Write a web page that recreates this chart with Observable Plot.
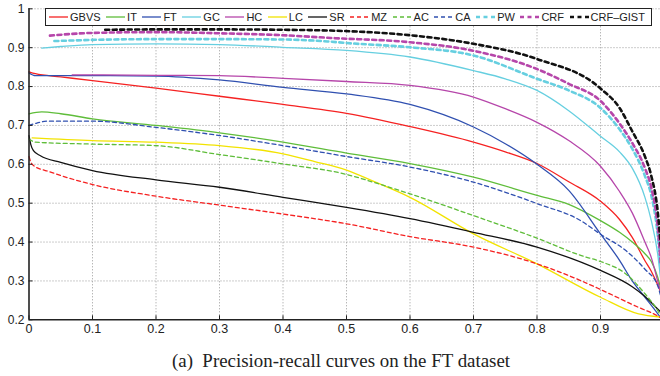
<!DOCTYPE html>
<html>
<head>
<meta charset="utf-8">
<script src="https://cdn.jsdelivr.net/npm/d3@7"></script>
<script src="https://cdn.jsdelivr.net/npm/@observablehq/plot@0.6"></script>
<style>
  html, body { margin: 0; padding: 0; background: white; overflow: hidden; }
  #wrap { position: relative; width: 660px; height: 376px; overflow: hidden; }
  #legend {
    position: absolute; left: 45px; top: 8px; width: 607px; height: 18px;
    box-sizing: border-box; border: 1.2px solid #222; background: white;
    display: flex; align-items: center; justify-content: space-between;
    padding: 0 6px 0 3px;
    font-family: "Liberation Sans", Arial, sans-serif; font-size: 11px; color: #222;
  }
  #legend .item { display: flex; align-items: center; white-space: nowrap; }
  #legend svg { display: block; margin-right: 2px; }
  #caption {
    position: absolute; left: 0; top: 351px; width: 660px; text-align: center;
    font-family: "Liberation Serif", "Times New Roman", serif; font-size: 18px;
    line-height: 20px; color: #222;
  }
  #caption span { display: inline-block; transform: scaleX(1.05); transform-origin: center; margin-left: 22px; }
</style>
</head>
<body>
<div id="wrap">
  <div id="chart"></div>
  <div id="legend"></div>
  <div id="caption"><span>(a)&nbsp; Precision-recall curves on the FT dataset</span></div>
</div>
<script>
// ---------- data: [recall, precision] pairs ----------
const names = ["GBVS", "IT", "FT", "GC", "HC", "LC", "SR", "MZ", "AC", "CA", "PW", "CRF", "CRF–GIST"];

const gbvs = [[0,0.838],[0.01,0.833],[0.05,0.825],[0.1,0.815],[0.2,0.796],[0.3,0.775],[0.4,0.754],[0.5,0.731],[0.6,0.697],[0.7,0.657],[0.75,0.632],[0.8,0.602],[0.85,0.555],[0.9,0.505],[0.93,0.458],[0.95,0.412],[0.97,0.352],[0.98,0.325],[0.99,0.29],[0.995,0.27]];
const it = [[0,0.73],[0.02,0.735],[0.05,0.73],[0.1,0.717],[0.2,0.70],[0.3,0.681],[0.4,0.657],[0.5,0.629],[0.6,0.602],[0.7,0.567],[0.8,0.52],[0.85,0.497],[0.9,0.455],[0.93,0.425],[0.95,0.40],[0.97,0.37],[0.98,0.35],[0.99,0.31],[0.995,0.28]];
const ft = [[0,0.835],[0.01,0.828],[0.1,0.828],[0.2,0.827],[0.3,0.817],[0.4,0.798],[0.5,0.781],[0.6,0.754],[0.7,0.696],[0.75,0.653],[0.8,0.60],[0.85,0.533],[0.9,0.421],[0.93,0.353],[0.95,0.30],[0.97,0.258],[0.99,0.216],[0.995,0.205]];
const gc = [[0.02,0.899],[0.05,0.903],[0.1,0.908],[0.2,0.91],[0.3,0.908],[0.4,0.901],[0.5,0.893],[0.6,0.876],[0.7,0.841],[0.75,0.82],[0.8,0.79],[0.85,0.738],[0.9,0.672],[0.93,0.632],[0.95,0.59],[0.97,0.515],[0.98,0.455],[0.99,0.37],[0.995,0.30]];
const hc = [[0.068,0.83],[0.1,0.83],[0.2,0.829],[0.3,0.828],[0.4,0.821],[0.5,0.813],[0.6,0.803],[0.7,0.773],[0.75,0.743],[0.8,0.708],[0.85,0.661],[0.9,0.595],[0.93,0.53],[0.95,0.475],[0.97,0.40],[0.98,0.36],[0.99,0.30],[0.995,0.27]];
const lc = [[0.005,0.668],[0.1,0.661],[0.2,0.657],[0.3,0.648],[0.4,0.627],[0.45,0.607],[0.5,0.585],[0.54,0.558],[0.6,0.515],[0.7,0.421],[0.8,0.344],[0.9,0.258],[0.96,0.215],[0.995,0.207]];
const sr = [[0,0.674],[0.003,0.65],[0.007,0.635],[0.018,0.622],[0.05,0.605],[0.1,0.584],[0.2,0.56],[0.3,0.541],[0.4,0.515],[0.5,0.489],[0.6,0.46],[0.7,0.425],[0.8,0.387],[0.9,0.327],[0.95,0.285],[0.97,0.26],[0.99,0.228],[0.995,0.22]];
const mz = [[0,0.62],[0.003,0.605],[0.007,0.597],[0.034,0.58],[0.1,0.548],[0.2,0.518],[0.3,0.495],[0.4,0.472],[0.5,0.447],[0.6,0.414],[0.7,0.387],[0.8,0.344],[0.87,0.30],[0.9,0.278],[0.96,0.232],[0.99,0.21],[0.995,0.205]];
const ac = [[0,0.665],[0.01,0.657],[0.1,0.652],[0.2,0.648],[0.3,0.625],[0.4,0.601],[0.5,0.574],[0.55,0.55],[0.6,0.524],[0.7,0.468],[0.8,0.41],[0.87,0.365],[0.9,0.35],[0.94,0.318],[0.97,0.267],[0.99,0.224],[0.995,0.21]];
const ca = [[0,0.70],[0.01,0.705],[0.03,0.711],[0.1,0.711],[0.2,0.695],[0.3,0.674],[0.4,0.648],[0.5,0.62],[0.6,0.593],[0.7,0.554],[0.8,0.499],[0.87,0.454],[0.9,0.42],[0.94,0.378],[0.97,0.33],[0.99,0.288],[0.995,0.26]];
const pw = [[0.04,0.917],[0.1,0.92],[0.2,0.922],[0.3,0.922],[0.4,0.921],[0.47,0.916],[0.5,0.912],[0.6,0.901],[0.7,0.88],[0.8,0.82],[0.85,0.79],[0.9,0.745],[0.93,0.69],[0.95,0.64],[0.97,0.57],[0.98,0.52],[0.99,0.42],[0.995,0.33]];
const crf = [[0.033,0.931],[0.1,0.938],[0.2,0.94],[0.3,0.937],[0.4,0.932],[0.475,0.925],[0.6,0.914],[0.7,0.892],[0.8,0.845],[0.85,0.807],[0.9,0.763],[0.93,0.705],[0.95,0.655],[0.97,0.59],[0.98,0.54],[0.99,0.44],[0.995,0.34]];
const crfGist = [[0.12,0.946],[0.2,0.947],[0.3,0.947],[0.4,0.946],[0.475,0.944],[0.6,0.932],[0.7,0.91],[0.8,0.871],[0.9,0.795],[0.93,0.745],[0.95,0.685],[0.97,0.62],[0.98,0.57],[0.99,0.48],[0.995,0.39]];

const seriesData = [gbvs, it, ft, gc, hc, lc, sr, mz, ac, ca, pw, crf, crfGist];

const xTicks = [0, 0.1, 0.2, 0.3, 0.4, 0.5, 0.6, 0.7, 0.8, 0.9];
const yTicks = [0.2, 0.3, 0.4, 0.5, 0.6, 0.7, 0.8, 0.9, 1];

// ---------- styles (separate from data) ----------
const colors = ["#f52222", "#5fbd3a", "#3050b0", "#66cfe0", "#b646aa", "#f2e300", "#111111",
                "#f52222", "#5fbd3a", "#3050b0", "#66cfe0", "#b646aa", "#111111"];
const widths = [1.3, 1.3, 1.3, 1.3, 1.3, 1.3, 1.3, 1.3, 1.3, 1.3, 2.6, 2.6, 2.6];
const dashes = [null, null, null, null, null, null, null, "4,3", "4,3", "4,3", "4,3.5", "4,3.5", "4,3.5"];

const W = 660, H = 340;
const mL = 28.5, mR = 0, mT = 8.3, mB = 20.7;

const lineMarks = seriesData.map((d, i) =>
  Plot.line(d, {
    x: p => p[0], y: p => p[1],
    stroke: colors[i], strokeWidth: widths[i],
    strokeDasharray: dashes[i] || undefined,
    curve: "monotone-x"
  })
);

const chart = Plot.plot({
  width: W, height: H,
  marginLeft: mL, marginRight: mR, marginTop: mT, marginBottom: mB,
  x: { domain: [0, 1], range: [mL, mL + 635] },
  y: { domain: [0.2, 1], range: [H - mB, mT] },
  style: { fontFamily: "Liberation Sans, Arial, sans-serif", color: "#222", background: "white", overflow: "hidden" },
  marks: [
    Plot.ruleX(xTicks.slice(1), { x: d => d, stroke: "#999", strokeOpacity: 1, strokeWidth: 1, strokeDasharray: "1,2" }),
    Plot.ruleY(yTicks.slice(1), { y: d => d, stroke: "#999", strokeOpacity: 1, strokeWidth: 1, strokeDasharray: "1,2" }),
    ...lineMarks,
    Plot.tickX(xTicks, { x: d => d, stroke: "#222", insetTop: (H - mT - mB) - 4 }),
    Plot.tickY(yTicks, { y: d => d, stroke: "#222", insetRight: (W - mL - mR) - 4 }),
    Plot.ruleX([0], { stroke: "#222", strokeWidth: 1.6 }),
    Plot.ruleY([0.2], { stroke: "#222", strokeWidth: 1.6 }),
    Plot.axisX({ ticks: xTicks, tickSize: 0, tickPadding: 4, fontSize: 12.5,
                 tickFormat: d => d === 0 ? "0" : d3.format(".1f")(d) }),
    Plot.axisY({ ticks: yTicks, tickSize: 0, tickPadding: 4.5, fontSize: 12,
                 tickFormat: d => d === 1 ? "1" : d3.format(".1f")(d) })
  ]
});
document.getElementById("chart").appendChild(chart);

// ---------- legend ----------
const legend = d3.select("#legend");
names.forEach((name, i) => {
  const item = legend.append("div").attr("class", "item");
  const svg = item.append("svg").attr("width", 19).attr("height", 10);
  svg.append("line")
    .attr("x1", 0).attr("x2", 19).attr("y1", 5).attr("y2", 5)
    .attr("stroke", colors[i]).attr("stroke-width", widths[i])
    .attr("stroke-dasharray", dashes[i]);
  item.append("span").text(name);
});
</script>
</body>
</html>
